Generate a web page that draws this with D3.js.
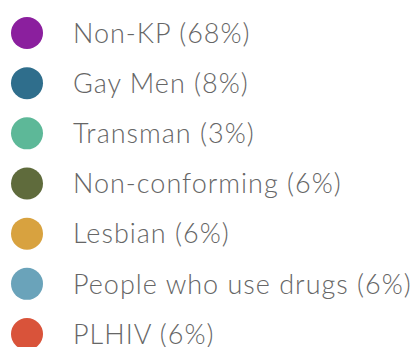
<!DOCTYPE html>
<html>
<head>
<meta charset="utf-8">
<script src="https://cdn.jsdelivr.net/npm/d3@7"></script>
<style>
  html, body { margin: 0; padding: 0; background: #fff; }
  svg { display: block; }
</style>
</head>
<body>
<svg id="legend" width="416" height="347"></svg>
<script>
// Population groups and their share of the total (%)
const groups = ["Non-KP", "Gay Men", "Transman", "Non-conforming", "Lesbian", "People who use drugs", "PLHIV"];
const shares = [68, 8, 3, 6, 6, 6, 6];
const palette = ["#8b1f9e", "#2f6e8c", "#5db898", "#5f6b3c", "#d8a23f", "#6aa3ba", "#d9533a"];

const svg = d3.select("#legend");

const y = d3.scalePoint().domain(groups).range([33, 334]);
const color = d3.scaleOrdinal().domain(groups).range(palette);

const rows = svg.selectAll("g.row")
  .data(groups.map((g, i) => ({ name: g, value: shares[i] })))
  .join("g")
  .attr("class", "row")
  .attr("transform", d => `translate(0,${y(d.name)})`);

rows.append("circle")
  .attr("cx", 27)
  .attr("r", 16)
  .attr("fill", d => color(d.name));

rows.append("text")
  .attr("x", 73)
  .attr("dy", "0.36em")
  .attr("fill", "#666")
  .style("font-family", "Lato, 'Open Sans', sans-serif")
  .style("font-size", "27px")
  .style("font-weight", 300)
  .style("letter-spacing", "1px")
  .text(d => `${d.name} (${d.value}%)`);
</script>
</body>
</html>
